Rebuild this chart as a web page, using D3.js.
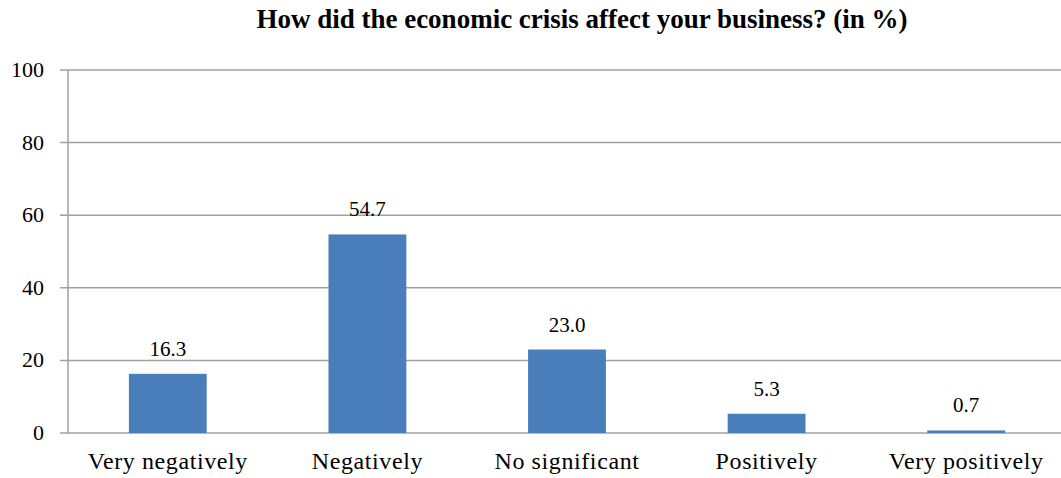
<!DOCTYPE html>
<html>
<head>
<meta charset="utf-8">
<script src="https://cdn.jsdelivr.net/npm/d3@7"></script>
</head>
<body style="margin:0">
<div id="chart"></div>
<script>
// Data
const categories = ["Very negatively", "Negatively", "No significant", "Positively", "Very positively"];
const values = [16.3, 54.7, 23.0, 5.3, 0.7];
const yTicks = [0, 20, 40, 60, 80, 100];
const title = "How did the economic crisis affect your business? (in %)";

const width = 1061;
const height = 478;
const margin = { top: 70, right: -5, bottom: 45, left: 68 };
const fontFace = '"Liberation Serif", monospace';

const svg = d3.select("#chart")
    .append("svg")
    .attr("width", width)
    .attr("height", height)
    .style("font-family", fontFace);

const x = d3.scaleBand()
    .domain(categories)
    .range([margin.left, width - margin.right])
    .paddingInner(0.61)
    .paddingOuter(0.305);

const y = d3.scaleLinear()
    .domain([0, 100])
    .range([height - margin.bottom, margin.top]);

// Gridlines
svg.append("g")
    .selectAll("line")
    .data(yTicks)
    .enter().append("line")
    .attr("x1", margin.left - 8)
    .attr("x2", width)
    .attr("y1", d => y(d))
    .attr("y2", d => y(d))
    .attr("stroke", "#a0a0a0")
    .attr("stroke-width", 1.5);

// Y axis line
svg.append("line")
    .attr("x1", margin.left)
    .attr("x2", margin.left)
    .attr("y1", y(100))
    .attr("y2", y(0))
    .attr("stroke", "#a0a0a0")
    .attr("stroke-width", 1.5);

// Y tick labels
svg.selectAll(".ytick")
    .data(yTicks)
    .enter().append("text")
    .attr("class", "ytick")
    .attr("x", margin.left - 24)
    .attr("y", d => y(d) + 7)
    .attr("text-anchor", "end")
    .style("font-family", fontFace)
    .style("font-size", "22px")
    .text(d => d);

// Bars
svg.append("g")
    .selectAll("rect")
    .data(values)
    .enter().append("rect")
    .attr("x", (d, i) => x(categories[i]))
    .attr("width", x.bandwidth())
    .attr("y", d => y(d))
    .attr("height", d => y(0) - y(d))
    .attr("fill", "#4a7ebb");

// Value labels
svg.selectAll(".vlabel")
    .data(values)
    .enter().append("text")
    .attr("class", "vlabel")
    .attr("x", (d, i) => x(categories[i]) + x.bandwidth() / 2)
    .attr("y", d => y(d) - 18)
    .attr("text-anchor", "middle")
    .style("font-family", fontFace)
    .style("font-size", "21px")
    .text(d => d.toFixed(1));

// Category labels
svg.selectAll(".xlabel")
    .data(categories)
    .enter().append("text")
    .attr("class", "xlabel")
    .attr("x", d => x(d) + x.bandwidth() / 2)
    .attr("y", y(0) + 36)
    .attr("text-anchor", "middle")
    .style("font-family", fontFace)
    .style("font-size", "24px")
    .style("letter-spacing", "0.6px")
    .text(d => d);

// Title
svg.append("text")
    .attr("x", 582)
    .attr("y", 28)
    .attr("text-anchor", "middle")
    .style("font-family", fontFace)
    .style("font-size", "27px")
    .style("font-weight", "bold")
    .text(title);
</script>
</body>
</html>
